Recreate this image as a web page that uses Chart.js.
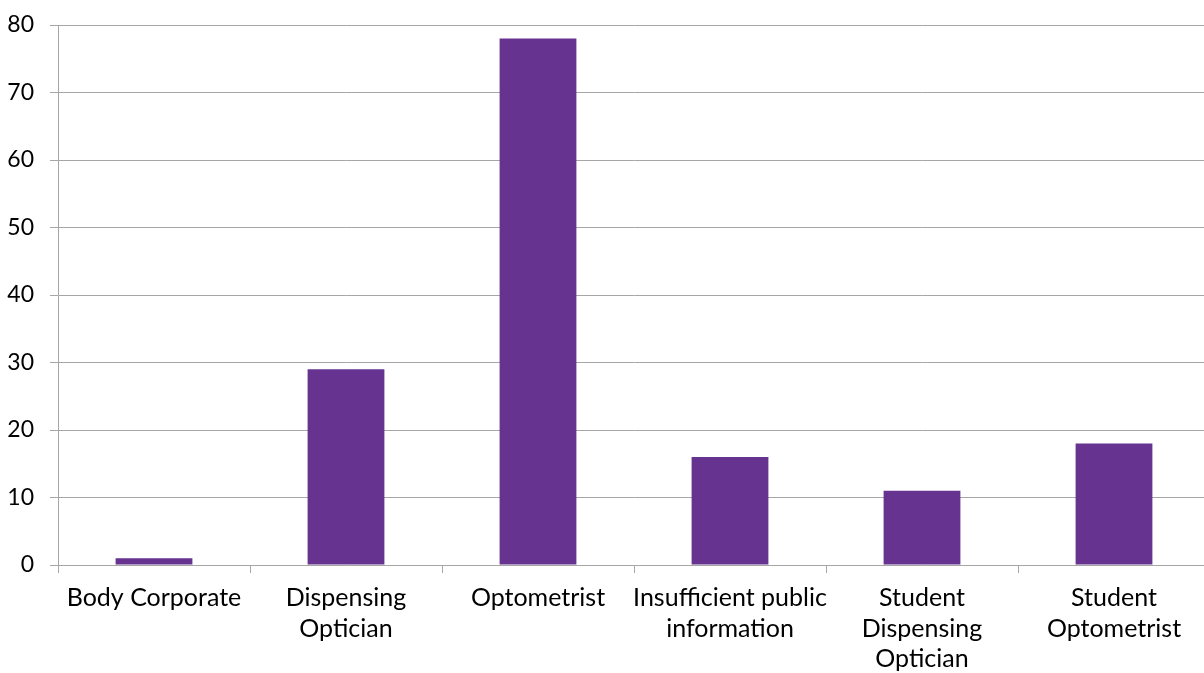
<!DOCTYPE html>
<html>
<head>
<meta charset="utf-8">
<script src="https://cdn.jsdelivr.net/npm/chart.js@4"></script>
<style>
  html, body { margin: 0; padding: 0; background: #ffffff; overflow: hidden; }
  #clip { width: 1204px; height: 673px; overflow: hidden; position: relative; }
  #wrap { width: 1210px; height: 673px; position: relative; }
</style>
</head>
<body>
<div id="clip"><div id="wrap"><canvas id="c"></canvas></div></div>
<script>
const categories = [
  "Body Corporate",
  ["Dispensing", "Optician"],
  "Optometrist",
  ["Insufficient public", "information"],
  ["Student", "Dispensing", "Optician"],
  ["Student", "Optometrist"]
];
const counts = [1, 29, 78, 16, 11, 18];
const yTicks = [0, 10, 20, 30, 40, 50, 60, 70, 80];

const FONT = "Lato, 'Open Sans', sans-serif";

new Chart(document.getElementById('c'), {
  type: 'bar',
  data: {
    labels: categories,
    datasets: [{
      data: counts,
      backgroundColor: '#663390',
      borderWidth: 0,
      categoryPercentage: 1.0,
      barPercentage: 0.4
    }]
  },
  options: {
    responsive: true,
    maintainAspectRatio: false,
    animation: false,
    layout: { padding: { top: 25, right: 0, left: 0, bottom: 0 } },
    plugins: { legend: { display: false }, tooltip: { enabled: false } },
    scales: {
      x: {
        offset: true,
        grid: { drawOnChartArea: false, color: '#a6a6a6', tickLength: 8, offset: true },
        border: { color: '#a6a6a6', width: 1 },
        ticks: {
          color: '#000000',
          font: { family: FONT, size: 25, lineHeight: 1.22 },
          padding: 10,
          maxRotation: 0,
          autoSkip: false
        },
        afterFit: s => { s.height = 108; s.paddingLeft = 0; s.paddingRight = 0; }
      },
      y: {
        min: 0,
        max: 80,
        afterBuildTicks: s => { s.ticks = yTicks.map(v => ({ value: v })); },
        grid: { color: '#a6a6a6', tickLength: 8 },
        border: { color: '#a6a6a6', width: 1 },
        ticks: {
          color: '#000000',
          font: { family: FONT, size: 23 },
          padding: 16
        },
        afterFit: s => { s.width = 58; s.paddingTop = 0; s.paddingBottom = 0; }
      }
    }
  }
});
</script>
</body>
</html>
